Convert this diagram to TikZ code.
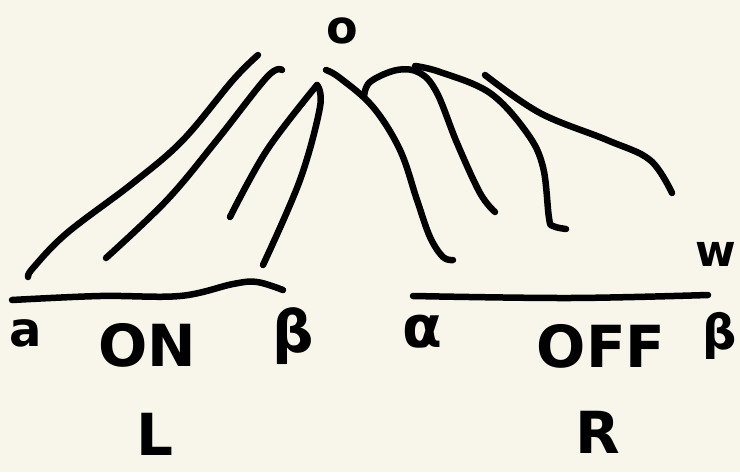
\documentclass[tikz,border=0pt]{standalone}
\usepackage{fontspec}
\usepackage{tikz}
\usetikzlibrary{calc}
\newfontfamily\handfont{DejaVu Sans}
\definecolor{bgcream}{HTML}{F8F6EB}

\tikzset{
  pen/.style={line width=6.5pt,line cap=round,line join=round,black},
  hand/.style={font=\handfont\bfseries\fontsize{58}{58}\selectfont,inner sep=0pt,anchor=center}
}

\begin{document}
\begin{tikzpicture}[x=1pt,y=-1pt]
  \fill[bgcream] (0,0) rectangle (740,472);
  \useasboundingbox (0,0) rectangle (740,472);
  % top point
  \node[hand,font=\handfont\bfseries\fontsize{46}{46}\selectfont] (top) at (342,31) {o};
  % left strokes
  \draw[pen] plot[smooth,tension=0.6] coordinates {(28,277) (33,268) (67,233) (133,183) (183,140) (233,80) (258,55)};
  \draw[pen] plot[smooth,tension=0.6] coordinates {(106,258) (167,200) (217,140) (267,77) (282,70)};
  \draw[pen] plot[smooth,tension=0.6] coordinates {(230,217) (267,150) (317,85)};
  \draw[pen] plot[smooth,tension=0.6] coordinates {(317,85) (320,107) (300,180) (263,265)};
  % right strokes
  \draw[pen] plot[smooth,tension=0.6] coordinates {(326,70) (340,78) (373,107) (400,150) (417,200) (430,237) (443,257) (453,260)};
  \draw[pen] plot[smooth,tension=0.6] coordinates {(364,97) (370,82) (397,70) (420,73) (437,93) (457,143) (480,193) (495,212)};
  \draw[pen] plot[smooth,tension=0.6] coordinates {(415,66) (440,72) (490,93) (527,133) (543,167) (549,218) (553,226) (566,229)};
  \draw[pen] plot[smooth,tension=0.6] coordinates {(485,75) (540,113) (607,140) (650,160) (672,193)};
  % ground lines
  \draw[pen] plot[smooth,tension=0.6] coordinates {(12,300) (100,296) (180,296) (233,284) (257,282) (283,290)};
  \draw[pen] plot[smooth,tension=0.6] coordinates {(413,296) (570,298) (708,295)};
  % labels
  \node[hand,font=\handfont\bfseries\fontsize{48}{48}\selectfont] (a) at (26,333) {a};
  \node[hand] (on) at (147,345) {ON};
  \node[hand] (bl) at (293,336) {β};
  \node[hand] (al) at (422,332) {α};
  \node[hand] (off) at (601,346) {OFF};
  \node[hand,font=\handfont\bfseries\fontsize{48}{48}\selectfont] (br) at (720,336) {β};
  \node[hand,font=\handfont\bfseries\fontsize{44}{44}\selectfont] (w) at (716,254) {w};
  \node[hand] (L) at (155,434) {L};
  \node[hand] (R) at (598,432) {R};
\end{tikzpicture}
\end{document}
